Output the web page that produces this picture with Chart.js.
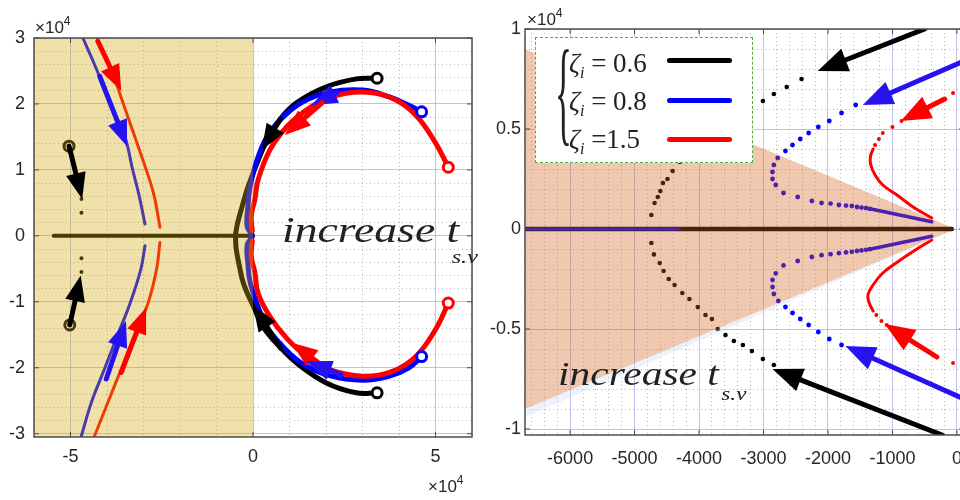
<!DOCTYPE html>
<html lang="en">
<head>
<meta charset="UTF-8">
<title>Root locus - increase t_s.v</title>
<script src="https://cdn.jsdelivr.net/npm/chart.js"></script>
<style>
  body { margin: 0; width: 960px; height: 500px; overflow: hidden; position: relative; background: #fff;
         font-family: "Liberation Sans", Arial, sans-serif; color: #222; }
  .box { position: absolute; top: 0; height: 500px; }
  #leftBox { left: 0; width: 480px; }
  #rightBox { left: 480px; width: 490px; }
  .txt { position: absolute; white-space: nowrap; line-height: 1; }
  .serif { font-family: "Liberation Serif", "Times New Roman", serif; }
  .it { font-style: italic; }
  .wide { transform-origin: left top; }
  .exp { font-size: 17px; color: #262626; }
  .exp sup { font-size: 12px; vertical-align: 8px; line-height: 0; }
  .sub { line-height: 0; }
  #legend { position: absolute; left: 535px; top: 37px; width: 218px; height: 126px; box-sizing: border-box;
            border: 1.5px dashed #52ad34; background: #fff; }
  #legend .entry { position: absolute; left: 33px; font-size: 27px; }
  #legend .swatch { position: absolute; left: 131px; width: 65px; height: 5px; border-radius: 3px; }
  #legend .brace { position: absolute; left: 19px; top: -6px; font-size: 117px; transform: scaleX(0.3); transform-origin: left top; }
</style>
</head>
<body>
<div class="box" id="leftBox"><canvas id="leftChart"></canvas></div>
<div class="box" id="rightBox"><canvas id="rightChart"></canvas></div>

<div class="txt exp" style="left:35px;top:19px">&times;10<sup>4</sup></div>
<div class="txt exp" style="left:428px;top:478px">&times;10<sup>4</sup></div>
<div class="txt exp" style="left:527px;top:11px">&times;10<sup>4</sup></div>

<div class="txt serif it wide" style="left:282px;top:212px;font-size:36px;transform:scaleX(1.27)">increase t<span class="sub" style="font-size:19px;vertical-align:-21px;margin-left:-6px">s.v</span></div>
<div class="txt serif it wide" style="left:558px;top:357px;font-size:34px;transform:scaleX(1.22)">increase t<span class="sub" style="font-size:19px;vertical-align:-15px;margin-left:2px">s.v</span></div>

<div id="legend" class="serif">
  <div class="txt brace">{</div>
  <div class="txt entry" style="top:12px"><span class="it">&zeta;</span><span class="sub it" style="font-size:16px;vertical-align:-6px">i</span> = 0.6</div>
  <div class="txt entry" style="top:50px"><span class="it">&zeta;</span><span class="sub it" style="font-size:16px;vertical-align:-6px">i</span> = 0.8</div>
  <div class="txt entry" style="top:88px"><span class="it">&zeta;</span><span class="sub it" style="font-size:16px;vertical-align:-6px">i</span> =1.5</div>
  <div class="swatch" style="top:20px;background:#000"></div>
  <div class="swatch" style="top:60px;background:#0000ff"></div>
  <div class="swatch" style="top:99px;background:#ff0000"></div>
</div>

<script>
// ---------- left panel (x and y in units of 1e4) ----------
const lXLabels = [-5, 0, 5];
const lYLabels = [-3, -2, -1, 0, 1, 2, 3];

const lBlackUpX = [3.40, 2.83, 2.01, 1.20, 0.73, 0.38, 0.11, -0.15, -0.30, -0.42, -0.48];
const lBlackUpY = [2.39, 2.38, 2.26, 2.02, 1.76, 1.45, 1.10, 0.72, 0.44, 0.20, 0.02];
const lBlackDnX = [3.40, 2.83, 2.01, 1.20, 0.73, 0.30, 0.02, -0.25, -0.38, -0.46, -0.48];
const lBlackDnY = [-2.38, -2.38, -2.23, -1.93, -1.68, -1.40, -1.08, -0.74, -0.44, -0.20, -0.02];

const lBlueUpX = [4.62, 4.27, 3.72, 3.00, 2.10, 1.36, 0.82, 0.38, 0.11, -0.08, -0.14, -0.16, -0.03];
const lBlueUpY = [1.88, 1.98, 2.11, 2.21, 2.18, 2.03, 1.80, 1.50, 1.15, 0.74, 0.44, 0.14, 0.02];
const lBlueDnX = [4.62, 4.27, 3.72, 3.00, 2.10, 1.36, 0.82, 0.38, 0.11, -0.08, -0.14, -0.16, -0.03];
const lBlueDnY = [-1.83, -2.00, -2.13, -2.19, -2.12, -1.94, -1.68, -1.38, -1.03, -0.70, -0.42, -0.14, -0.02];

const lRedUpX = [5.35, 5.00, 4.46, 3.80, 3.00, 2.10, 1.47, 0.92, 0.46, 0.14, 0.05, -0.05, -0.02];
const lRedUpY = [1.04, 1.41, 1.83, 2.09, 2.18, 2.10, 1.91, 1.65, 1.30, 0.85, 0.55, 0.30, 0.08];
const lRedDnX = [5.35, 5.00, 4.46, 3.80, 3.00, 2.10, 1.47, 0.92, 0.46, 0.14, 0.05, -0.05, -0.02];
const lRedDnY = [-1.02, -1.42, -1.83, -2.06, -2.13, -2.03, -1.83, -1.55, -1.22, -0.87, -0.55, -0.30, -0.08];

// far-left branches
const lBlueBrUpX = [-4.66, -4.29, -3.93, -3.52, -3.30, -3.12, -2.96];
const lBlueBrUpY = [3.00, 2.53, 2.03, 1.52, 1.01, 0.61, 0.18];
const lBlueBrDnX = [-2.96, -3.07, -3.36, -3.72, -4.07, -4.43, -4.70];
const lBlueBrDnY = [-0.15, -0.50, -1.01, -1.52, -2.02, -2.53, -3.03];
const lRedBrUpX = [-4.27, -3.89, -3.57, -3.25, -2.93, -2.71, -2.55];
const lRedBrUpY = [3.00, 2.53, 2.03, 1.52, 1.01, 0.61, 0.13];
const lRedBrDnX = [-2.55, -2.64, -2.87, -3.25, -3.61, -3.98, -4.34];
const lRedBrDnY = [-0.10, -0.50, -1.01, -1.52, -2.02, -2.53, -3.03];

const lPoleX = [-5.04, -5.02];
const lPoleY = [1.36, -1.35];
const lDotX = [-4.70, -4.70, -4.70, -4.70];
const lDotY = [0.56, 0.35, -0.34, -0.55];
const lAxisX = [-5.46, 0];
const lAxisY = [0, 0];
const lShadeX = [-6, 0, 0, -6];
const lShadeY = [3, 3, -3.05, -3.05];

// arrows: 0 black, 1 blue, 2 red
const lArrowSeries = [0, 1, 2, 0, 2, 1, 2, 1, 0, 0, 1, 2];
const lArrowTailX = [0.75, 2.30, 1.90, 0.75, 1.90, 2.40, -4.25, -4.20, -5.04, -5.02, -4.02, -3.61];
const lArrowTailY = [1.77, 2.17, 2.02, -1.70, -1.97, -2.10, 2.95, 2.42, 1.36, -1.35, -2.17, -2.07];
const lArrowTipX = [0.24, 1.60, 0.87, 0.00, 1.06, 1.45, -3.61, -3.45, -4.68, -4.72, -3.48, -2.93];
const lArrowTipY = [1.30, 1.98, 1.53, -1.05, -1.62, -1.90, 2.20, 1.36, 0.56, -0.60, -1.29, -1.09];

// ---------- right panel (x raw, y in units of 1e4) ----------
const rXLabels = [-6000, -5000, -4000, -3000, -2000, -1000, 0];
const rYLabels = [-1, -0.5, 0, 0.5, 1];

const rBlackUpX = [-4740, -4690, -4640, -4600, -4560, -4490, -4410, -4300, -3010, -2840, -2640, -2410];
const rBlackUpY = [0.07, 0.13, 0.16, 0.19, 0.23, 0.25, 0.29, 0.335, 0.64, 0.675, 0.71, 0.75];
const rBlackDnX = [-4740, -4700, -4610, -4550, -4470, -4380, -4260, -4150, -4020, -3900, -3800, -3710, -3590, -3460, -3320, -3180, -3010, -2840];
const rBlackDnY = [-0.07, -0.127, -0.17, -0.21, -0.25, -0.28, -0.32, -0.35, -0.39, -0.43, -0.45, -0.50, -0.53, -0.56, -0.58, -0.61, -0.65, -0.68];

const rBlueUpX = [-1350, -1410, -1480, -1550, -1630, -1720, -1830, -1960, -2100, -2250, -2470, -2690, -2810, -2860, -2860, -2840, -2780, -2660, -2550, -2430, -2300, -2150, -1980, -1790, -1570];
const rBlueUpY = [0.101, 0.104, 0.107, 0.110, 0.115, 0.117, 0.120, 0.127, 0.130, 0.140, 0.160, 0.180, 0.220, 0.250, 0.285, 0.320, 0.355, 0.390, 0.420, 0.450, 0.480, 0.510, 0.540, 0.580, 0.620];
const rBlueDnX = [-1350, -1410, -1480, -1550, -1630, -1720, -1830, -1960, -2100, -2250, -2470, -2690, -2810, -2860, -2860, -2840, -2770, -2660, -2550, -2430, -2300, -2150, -1980, -1790];
const rBlueDnY = [-0.101, -0.104, -0.107, -0.110, -0.114, -0.117, -0.121, -0.126, -0.131, -0.140, -0.160, -0.182, -0.222, -0.255, -0.290, -0.325, -0.360, -0.390, -0.420, -0.450, -0.480, -0.515, -0.550, -0.580];
const rBlueSegUpX = [-390, -1350];
const rBlueSegUpY = [0.036, 0.101];
const rBlueSegDnX = [-390, -1350];
const rBlueSegDnY = [-0.036, -0.101];

const rRedUpX = [-390, -680, -930, -1150, -1270, -1340, -1340, -1300];
const rRedUpY = [0.055, 0.11, 0.17, 0.22, 0.27, 0.325, 0.365, 0.40];
const rRedUpDotX = [-1270, -1210, -1150, -1000, -860, -60];
const rRedUpDotY = [0.42, 0.45, 0.48, 0.51, 0.54, 0.68];
const rRedDnX = [-390, -620, -900, -1150, -1300, -1380, -1360, -1300];
const rRedDnY = [-0.055, -0.10, -0.16, -0.22, -0.28, -0.33, -0.37, -0.41];
const rRedDnDotX = [-1250, -1170, -1090, -60];
const rRedDnDotY = [-0.43, -0.46, -0.48, -0.67];

const rAxisX = [-6700, -80];
const rAxisY = [0, 0];
const rBlueAxisX = [-6700, -4300];
const rBlueAxisY = [0, 0];
const rShadeX = [-6700, -20, -6700];
const rShadeY = [0.90, 0, -0.90];
const rGlowX = [-6700, -20, -6700];
const rGlowY = [-0.90, 0, -0.94];

const rArrowSeries = [0, 1, 2, 2, 1, 0];
const rArrowTailX = [-500, 110, -190, -310, 110, -230];
const rArrowTailY = [1.00, 0.84, 0.65, -0.64, -0.85, -1.03];
const rArrowTipX = [-2160, -1460, -870, -1120, -1730, -2860];
const rArrowTipY = [0.79, 0.62, 0.54, -0.475, -0.585, -0.70];

// ---------- helpers ----------
const BLACK = '#000000', BLUE = '#0000ff', RED = '#ff0000';
const arrowColors = ['#000000', '#2612f0', '#ff0000'];
const tickFont = { family: '"Liberation Sans", Arial, sans-serif', size: 18 };

const pts = (xs, ys) => xs.map((x, i) => ({ x: x, y: ys[i] }));
const isLabel = (v, labels) => labels.some(l => Math.abs(l - v) < 1e-9);

function line(xs, ys, color, width) {
    return { data: pts(xs, ys), showLine: true, borderColor: color, borderWidth: width,
             pointRadius: 0, tension: 0.4, borderCapStyle: 'round', borderJoinStyle: 'round',
             fill: false, clip: 0, order: 2 };
}
function dots(xs, ys, color, r) {
    return { data: pts(xs, ys), showLine: false, pointRadius: r, pointBackgroundColor: color,
             pointBorderWidth: 0, clip: 0, order: 2 };
}
function rings(xs, ys, color) {
    return { data: pts(xs, ys), showLine: false, pointRadius: 5, pointBorderWidth: 3,
             pointBorderColor: color, pointBackgroundColor: '#fff', clip: 0, order: 1 };
}
function shade(xs, ys, color) {
    return { data: pts(xs, ys), showLine: true, fill: 'shape', backgroundColor: color,
             borderWidth: 0, pointRadius: 0, tension: 0, clip: 0, order: 0 };
}

function gridTicks(min, max, step) {
    const out = [];
    for (let k = Math.ceil(min / step - 1e-9); k <= Math.floor(max / step + 1e-9); k++) {
        out.push({ value: +(k * step).toFixed(6) });
    }
    return out;
}

function axis(pos, min, max, step, labels, size, pad) {
    return {
        type: 'linear', position: pos, min: min, max: max,
        afterBuildTicks: s => { s.ticks = gridTicks(min, max, step); },
        afterFit: s => {
            if (pos === 'left') { s.width = size; }
            else { s.height = size; s.paddingLeft = 0; s.paddingRight = 0; }
        },
        ticks: { autoSkip: false, maxRotation: 0, padding: pad, color: '#262626', font: tickFont,
                 callback: v => isLabel(v, labels) ? String(v) : '' },
        grid: { drawTicks: false, lineWidth: 1,
                color: c => (c.tick && isLabel(c.tick.value, labels)) ? 'rgba(165,165,228,0.7)' : 'rgba(110,110,110,0.5)' },
        border: { display: false, dash: c => (c.tick && !isLabel(c.tick.value, labels)) ? [1, 3] : [] }
    };
}

const framePlugin = {
    id: 'frame',
    afterDraw(chart) {
        const { ctx, chartArea: a, scales: { x, y } } = chart;
        ctx.save();
        ctx.strokeStyle = '#4d4d4d';
        ctx.lineWidth = 1.5;
        ctx.strokeRect(a.left, a.top, a.right - a.left, a.bottom - a.top);
        ctx.lineWidth = 1;
        ctx.beginPath();
        x.ticks.forEach(t => {
            if (!t.label) return;
            const px = x.getPixelForValue(t.value);
            ctx.moveTo(px, a.bottom); ctx.lineTo(px, a.bottom - 5);
            ctx.moveTo(px, a.top); ctx.lineTo(px, a.top + 5);
        });
        y.ticks.forEach(t => {
            if (!t.label) return;
            const py = y.getPixelForValue(t.value);
            ctx.moveTo(a.left, py); ctx.lineTo(a.left + 5, py);
            ctx.moveTo(a.right, py); ctx.lineTo(a.right - 5, py);
        });
        ctx.stroke();
        ctx.restore();
    }
};

function arrowPlugin(tailX, tailY, tipX, tipY, series, size) {
    return {
        id: 'arrows',
        afterDatasetsDraw(chart) {
            const { ctx, chartArea: a, scales: { x, y } } = chart;
            ctx.save();
            ctx.beginPath();
            ctx.rect(a.left, a.top, a.right - a.left, a.bottom - a.top);
            ctx.clip();
            tailX.forEach((_, i) => {
                const x0 = x.getPixelForValue(tailX[i]), y0 = y.getPixelForValue(tailY[i]);
                const x1 = x.getPixelForValue(tipX[i]), y1 = y.getPixelForValue(tipY[i]);
                const ang = Math.atan2(y1 - y0, x1 - x0);
                const bx = x1 - size.head * Math.cos(ang), by = y1 - size.head * Math.sin(ang);
                const c = arrowColors[series[i]];
                ctx.strokeStyle = c; ctx.fillStyle = c;
                ctx.lineWidth = size.shaft; ctx.lineCap = 'round';
                ctx.beginPath(); ctx.moveTo(x0, y0); ctx.lineTo(bx, by); ctx.stroke();
                ctx.beginPath(); ctx.moveTo(x1, y1);
                ctx.lineTo(bx + size.half * Math.sin(ang), by - size.half * Math.cos(ang));
                ctx.lineTo(bx - size.half * Math.sin(ang), by + size.half * Math.cos(ang));
                ctx.closePath(); ctx.fill();
            });
            ctx.restore();
        }
    };
}

function baseOptions(padding, scales) {
    return {
        responsive: true, maintainAspectRatio: false, animation: false, events: [],
        layout: { padding: padding },
        plugins: { legend: { display: false }, tooltip: { enabled: false } },
        scales: scales
    };
}

// ---------- left chart ----------
new Chart(document.getElementById('leftChart'), {
    type: 'scatter',
    data: {
        datasets: [
            shade(lShadeX, lShadeY, 'rgba(211,169,11,0.35)'),
            rings([lBlackUpX[0], lBlackDnX[0]].concat(lPoleX), [lBlackUpY[0], lBlackDnY[0]].concat(lPoleY), BLACK),
            rings([lBlueUpX[0], lBlueDnX[0]], [lBlueUpY[0], lBlueDnY[0]], BLUE),
            rings([lRedUpX[0], lRedDnX[0]], [lRedUpY[0], lRedDnY[0]], RED),
            line(lRedUpX, lRedUpY, RED, 5),
            line(lRedDnX, lRedDnY, RED, 5),
            line(lBlueUpX, lBlueUpY, BLUE, 5),
            line(lBlueDnX, lBlueDnY, BLUE, 5),
            line(lBlackUpX, lBlackUpY, BLACK, 5),
            line(lBlackDnX, lBlackDnY, BLACK, 5),
            line(lRedBrUpX, lRedBrUpY, RED, 3),
            line(lRedBrDnX, lRedBrDnY, RED, 3),
            line(lBlueBrUpX, lBlueBrUpY, BLUE, 3),
            line(lBlueBrDnX, lBlueBrDnY, BLUE, 3),
            line(lAxisX, lAxisY, BLACK, 4),
            dots(lDotX, lDotY, BLACK, 2)
        ]
    },
    options: baseOptions({ top: 38, right: 8, left: 0, bottom: 0 }, {
        x: axis('bottom', -6, 6, 1, lXLabels, 63, 9),
        y: axis('left', -3.05, 3, 0.2, lYLabels, 34, 9)
    }),
    plugins: [arrowPlugin(lArrowTailX, lArrowTailY, lArrowTipX, lArrowTipY, lArrowSeries,
                          { head: 26, half: 10, shaft: 5 }), framePlugin]
});

// ---------- right chart ----------
new Chart(document.getElementById('rightChart'), {
    type: 'scatter',
    data: {
        datasets: [
            shade(rShadeX, rShadeY, 'rgba(211,97,26,0.35)'),
            shade(rGlowX, rGlowY, 'rgba(200,222,244,0.35)'),
            dots(rRedUpDotX, rRedUpDotY, RED, 2),
            dots(rRedDnDotX, rRedDnDotY, RED, 2),
            line(rRedUpX, rRedUpY, RED, 3),
            line(rRedDnX, rRedDnY, RED, 3),
            dots(rBlueUpX, rBlueUpY, BLUE, 2.4),
            dots(rBlueDnX, rBlueDnY, BLUE, 2.4),
            line(rBlueSegUpX, rBlueSegUpY, BLUE, 3.5),
            line(rBlueSegDnX, rBlueSegDnY, BLUE, 3.5),
            dots(rBlackUpX, rBlackUpY, BLACK, 2.3),
            dots(rBlackDnX, rBlackDnY, BLACK, 2.3),
            Object.assign(line(rBlueAxisX, rBlueAxisY, BLUE, 3), { borderDash: [2, 2] }),
            line(rAxisX, rAxisY, BLACK, 4.5)
        ]
    },
    options: baseOptions({ top: 29, right: 6, left: 0, bottom: 0 }, {
        x: axis('bottom', -6700, 110, 200, rXLabels, 65, 13),
        y: axis('left', -1.03, 1, 0.1, rYLabels, 45, 4)
    }),
    plugins: [arrowPlugin(rArrowTailX, rArrowTailY, rArrowTipX, rArrowTipY, rArrowSeries,
                          { head: 30, half: 12, shaft: 5 }), framePlugin]
});
</script>
</body>
</html>
